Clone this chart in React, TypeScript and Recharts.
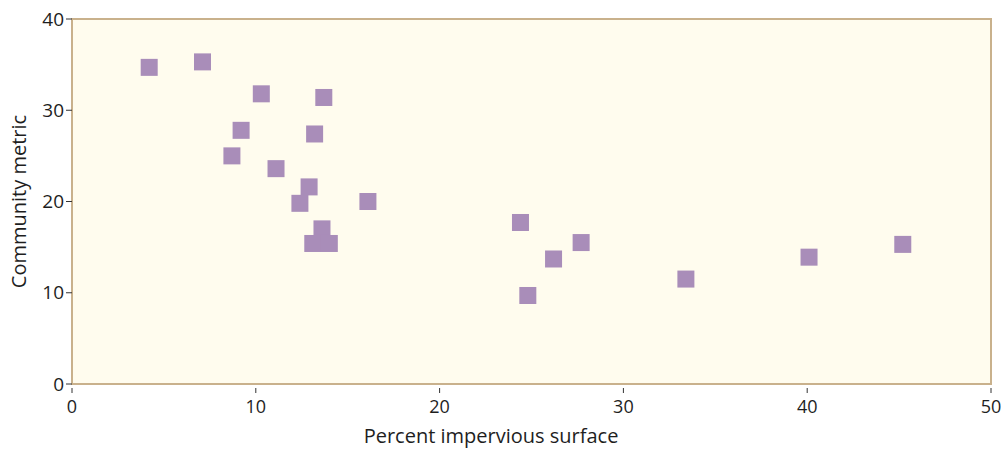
import { ScatterChart, Scatter, XAxis, YAxis, ReferenceArea, Label } from "recharts";

const imperviousPct = [4.2, 7.1, 10.3, 13.7, 9.2, 13.2, 8.7, 11.1, 12.9, 12.4, 16.1, 13.6, 13.1, 14.0, 24.4, 27.7, 26.2, 24.8, 33.4, 40.1, 45.2];
const communityMetric = [34.7, 35.3, 31.8, 31.4, 27.8, 27.4, 25.0, 23.6, 21.6, 19.8, 20.0, 17.0, 15.4, 15.4, 17.7, 15.5, 13.7, 9.7, 11.5, 13.9, 15.3];
const xTicks = [0, 10, 20, 30, 40, 50];
const yTicks = [0, 10, 20, 30, 40];

const points = imperviousPct.map((x, i) => ({ x, y: communityMetric[i] }));

const FONT = "'Open Sans', Lato, sans-serif";
const INK = "#1e1e1e";

const Square = (props: any) => {
  const { cx, cy } = props;
  return <rect x={cx - 8.5} y={cy - 8.5} width={17} height={17} fill="#a98db9" />;
};

const XTick = (props: any) => {
  const { x, y, payload } = props;
  return (
    <g>
      <line x1={x} x2={x} y1={y + 4} y2={y + 9} stroke="#333" strokeWidth={1} />
      <text x={x} y={y + 29} textAnchor="middle" fontSize={18} fontFamily={FONT} fill={INK}>
        {payload.value}
      </text>
    </g>
  );
};

export default function App() {
  return (
    <div style={{ position: "absolute", left: 0, top: 0, background: "#fff" }}>
      <ScatterChart width={1002} height={449} margin={{ top: 19, right: 11, bottom: 0, left: 0 }}>
        <XAxis
          type="number"
          dataKey="x"
          domain={[0, 50]}
          ticks={xTicks}
          axisLine={false}
          tickLine={false}
          tickSize={0}
          tickMargin={0}
          height={65}
          tick={<XTick />}
        >
          <Label
            content={(p: any) => (
              <text
                x={p.viewBox.x + p.viewBox.width * 0.456}
                y={p.viewBox.y + 59}
                textAnchor="middle"
                fontSize={20}
                fontFamily={FONT}
                fill={INK}
              >
                Percent impervious surface
              </text>
            )}
          />
        </XAxis>
        <YAxis
          type="number"
          dataKey="y"
          domain={[0, 40]}
          ticks={yTicks}
          width={72}
          axisLine={false}
          tickLine={{ stroke: "#333" }}
          tickSize={6}
          tickMargin={2}
          tick={{ fontSize: 19, fontFamily: FONT, fill: INK }}
        >
          <Label
            content={(p: any) => {
              const cy = p.viewBox.y + p.viewBox.height / 2;
              return (
                <text
                  x={26}
                  y={cy}
                  transform={`rotate(-90 26 ${cy})`}
                  textAnchor="middle"
                  fontSize={20}
                  fontFamily={FONT}
                  fill={INK}
                >
                  Community metric
                </text>
              );
            }}
          />
        </YAxis>
        <ReferenceArea x1={0} x2={50} y1={0} y2={40} fill="#fffcee" fillOpacity={1} stroke="#c9b18c" strokeWidth={2} />
        <Scatter data={points} shape={<Square />} isAnimationActive={false} />
      </ScatterChart>
    </div>
  );
}
